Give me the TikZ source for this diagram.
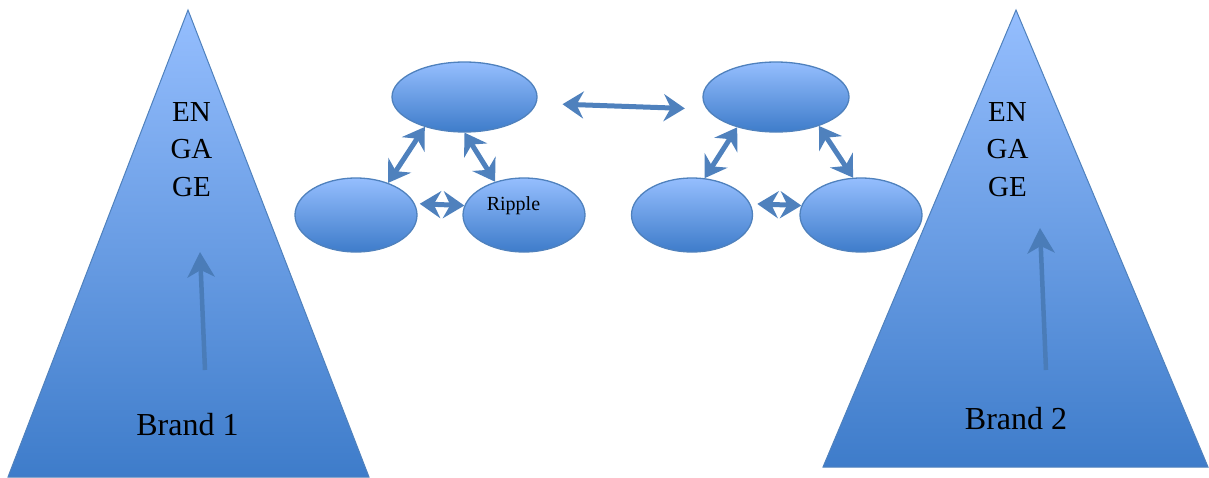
\documentclass[tikz,border=0pt]{standalone}
\usepackage{fontspec}
\setmainfont{Liberation Serif}
\usetikzlibrary{shapes.geometric,arrows.meta}
\definecolor{lightb}{RGB}{149,190,254}
\definecolor{darkb}{RGB}{62,124,202}
\definecolor{edgeb}{RGB}{79,129,189}
\definecolor{arrb}{RGB}{79,129,189}
\definecolor{risec}{RGB}{74,124,184}
\begin{document}
\begin{tikzpicture}[x=1pt,y=-1pt,
  bubble/.style={ellipse,draw=edgeb,line width=1.3pt,top color=lightb,bottom color=darkb,inner sep=0pt},
  link/.style={draw=arrb,line width=5pt,arrows={Stealth[length=21pt,width=27pt,inset=7pt]-Stealth[length=21pt,width=27pt,inset=7pt]}},
  rise/.style={draw=risec,line width=4.5pt,arrows={-Stealth[length=25pt,width=27pt,inset=7pt]}},
  pyr/.style={draw=edgeb,line width=1pt,top color=lightb,bottom color=darkb},
  bigtxt/.style={inner sep=0pt,font=\fontsize{29}{37.5}\selectfont,align=center},
  brandtxt/.style={inner sep=0pt,font=\fontsize{32}{38}\selectfont,anchor=base},
  smalltxt/.style={inner sep=0pt,font=\fontsize{20}{24}\selectfont,anchor=base}
]
\useasboundingbox (0,0) rectangle (1209,477);
% pyramids
\path[pyr] (188,10) -- (369,477) -- (8,477) -- cycle;
\path[pyr] (1016,10) -- (1208,467) -- (823,467) -- cycle;
% pyramid texts
\node[bigtxt,anchor=north] (eng1) at (191.5,102) {EN\\GA\\GE};
\node[bigtxt,anchor=north] (eng2) at (1007.5,102) {EN\\GA\\GE};
\node[brandtxt] (brand1) at (187.5,435) {Brand 1};
\node[brandtxt] (brand2) at (1016,429) {Brand 2};
% rising arrows
\coordinate (r1s) at (205,370);
\coordinate (r1e) at (200,252);
\coordinate (r2s) at (1046,370);
\coordinate (r2e) at (1040,228);
\draw[rise] (r1s) -- (r1e);
\draw[rise] (r2s) -- (r2e);
% left group
\node[bubble,minimum width=145pt,minimum height=70pt] (T) at (464.5,97) {};
\node[bubble,minimum width=122pt,minimum height=74pt] (BL) at (356,215) {};
\node[bubble,minimum width=122pt,minimum height=74pt] (BR) at (524,215) {};
\node[smalltxt] (rip) at (513.5,210) {Ripple};
% right group
\node[bubble,minimum width=146pt,minimum height=70pt] (TR) at (776,97) {};
\node[bubble,minimum width=121pt,minimum height=74pt] (BL2) at (692,215) {};
\node[bubble,minimum width=122pt,minimum height=74pt] (BR2) at (861,215) {};
% links
\draw[link] (BL.45) -- (T.217);
\draw[link] (T.270) -- (BR.131);
\draw[link,shorten <=5pt] (BL.11) -- (BR.171);
\draw[link,shorten <=26pt,shorten >=22pt] (T.-5) -- (TR.190);
\draw[link] (BL2.71) -- (TR.218);
\draw[link] (TR.-34) -- (BR2.102);
\draw[link,shorten <=7pt] (BL2.11) -- (BR2.171);
\end{tikzpicture}
\end{document}
